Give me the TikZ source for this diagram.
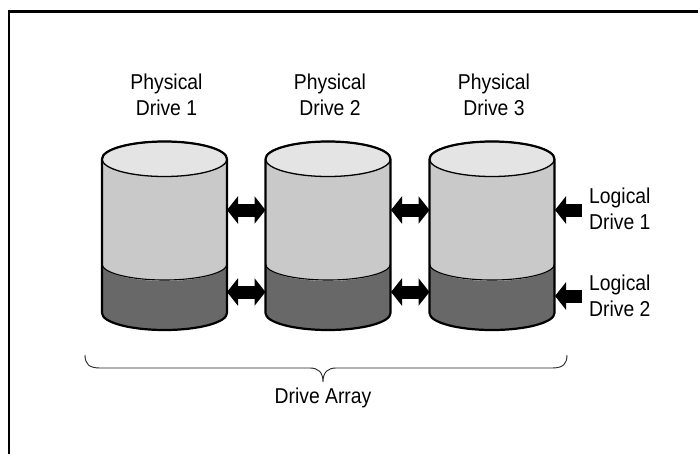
\documentclass[tikz,border=0pt]{standalone}
\usepackage{fontspec}
\setmainfont{Liberation Sans}[FakeStretch=0.9]
\usetikzlibrary{arrows.meta}
\definecolor{toplight}{RGB}{228,228,228}
\definecolor{bodylight}{RGB}{201,201,201}
\definecolor{bodydark}{RGB}{104,104,104}
\tikzset{
  lbl/.style={inner sep=0pt, font=\fontsize{21.5}{26}\selectfont, text=black},
  dblarrow/.style={line width=13pt, {Triangle[length=11pt,width=27pt]}-{Triangle[length=11pt,width=27pt]}},
  inarrow/.style={line width=13pt, -{Triangle[length=11pt,width=27pt]}},
  outline/.style={line width=2.2pt, line join=round},
  thinline/.style={line width=1.1pt},
}
\newcommand\drivecyl[1]{%
  \begin{scope}[xshift=#1pt]
    \fill[bodylight] (-62.5,159) -- (-62.5,313) arc[start angle=180,end angle=360,x radius=62.5pt,y radius=17pt] -- (62.5,159) -- cycle;
    \fill[bodydark] (-62.5,264) arc[start angle=180,end angle=360,x radius=62.5pt,y radius=17pt] -- (62.5,313) arc[start angle=0,end angle=-180,x radius=62.5pt,y radius=17pt] -- cycle;
    \draw[thinline] (-62.5,264) arc[start angle=180,end angle=360,x radius=62.5pt,y radius=16pt];
    \filldraw[fill=toplight, line width=1.3pt] (0,159) ellipse[x radius=62.5pt, y radius=17.5pt];
    \draw[outline] (-62.5,159) arc[start angle=180,end angle=0,x radius=62.5pt,y radius=17.5pt];
    \draw[outline] (-62.5,159) -- (-62.5,313) arc[start angle=180,end angle=360,x radius=62.5pt,y radius=17pt] -- (62.5,159);
  \end{scope}}
\begin{document}
\begin{tikzpicture}[x=1pt,y=-1pt]
\useasboundingbox (0,0) rectangle (698,453);
\fill[white] (0,0) rectangle (698,453);
% frame
\draw[line width=2.8pt] (9,470) -- (9,11.3) -- (720,11.3);
% drives
\drivecyl{164.5}
\drivecyl{328}
\drivecyl{492}
% connector end points
\coordinate (d1ra) at (227,210);
\coordinate (d2la) at (265.5,210);
\coordinate (d2ra) at (391,210);
\coordinate (d3la) at (429.5,210);
\coordinate (d3ra) at (555,210);
\coordinate (d1rb) at (227,292);
\coordinate (d2lb) at (265.5,292);
\coordinate (d2rb) at (391,292);
\coordinate (d3lb) at (429.5,292);
\coordinate (d3rb) at (555,296);
\coordinate (lga) at (582,210);
\coordinate (lgb) at (582,296);
\draw[dblarrow] (d1ra) -- (d2la);
\draw[dblarrow] (d2ra) -- (d3la);
\draw[dblarrow] (d1rb) -- (d2lb);
\draw[dblarrow] (d2rb) -- (d3lb);
\draw[inarrow] (lga) -- (d3ra);
\draw[inarrow] (lgb) -- (d3rb);
% labels
\node[lbl, anchor=north, align=center] (p1) at (166.5,73.3) {Physical\\Drive 1};
\node[lbl, anchor=north, align=center] (p2) at (330,73.3) {Physical\\Drive 2};
\node[lbl, anchor=north, align=center] (p3) at (494,73.3) {Physical\\Drive 3};
\node[lbl, anchor=north west, align=left] (l1) at (589,187.3) {Logical\\Drive 1};
\node[lbl, anchor=north west, align=left] (l2) at (589,274.3) {Logical\\Drive 2};
% brace
\coordinate (bl) at (85,355);
\coordinate (btip) at (323,382);
\coordinate (br) at (567,355);
\draw[line width=0.9pt, black!85] (bl) .. controls (85,364) and (89,368) .. (100,368) -- (310,368) .. controls (318,368) and (323,372) .. (btip) .. controls (323,372) and (328,368) .. (336,368) -- (552,368) .. controls (563,368) and (567,364) .. (br);
\node[lbl, anchor=north] (arr) at (323,387.7) {Drive Array};
\end{tikzpicture}
\end{document}
